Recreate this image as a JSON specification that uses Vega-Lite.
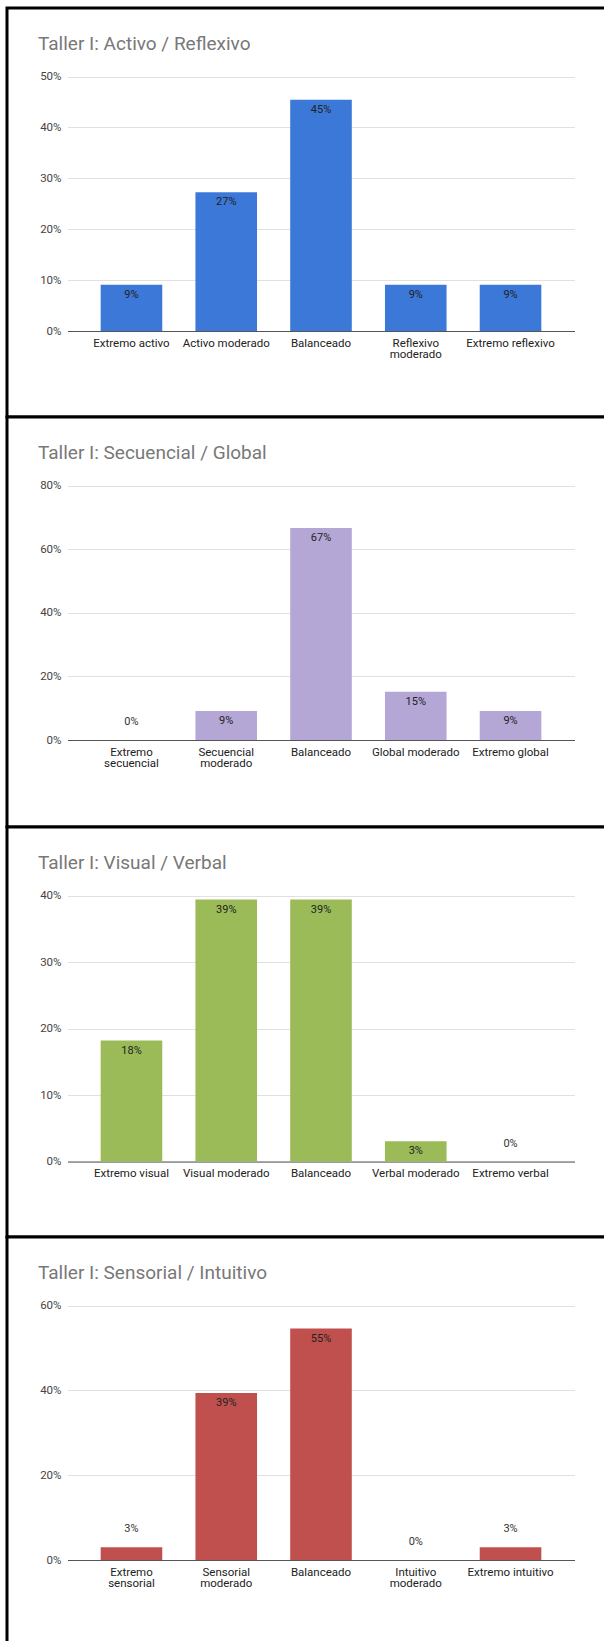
{
  "$schema": "https://vega.github.io/schema/vega-lite/v6.json",
  "padding": {"left": 5, "top": 6, "right": 0, "bottom": 0},
  "background": "white",
  "spacing": 0,
  "bounds": "flush",
  "config": {
    "font": "Roboto",
    "view": {"stroke": "#000000", "strokeWidth": 3, "fill": "white"},
    "axis": {"labelFont": "Roboto", "labelFontSize": 11.5, "title": null},
    "axisY": {"domain": false, "ticks": false, "labelPadding": 6.5, "labelColor": "#444444", "gridColor": "#e0e0e0", "gridWidth": 1, "format": ".0%"},
    "axisX": {"grid": false, "ticks": false, "domainColor": "#555555", "domainWidth": 1.2, "labelColor": "#222222", "labelPadding": 6, "labelAngle": 0, "labelLineHeight": 11},
    "title": {"anchor": "start", "frame": "group", "font": "Roboto", "fontSize": 19, "fontWeight": "normal", "color": "#787878", "baseline": "alphabetic", "offset": -46, "dx": 31}, 
    "text": {"font": "Roboto", "fontSize": 11, "color": "#222222", "baseline": "middle"}
  },
  "vconcat": [
    {
      "width": 600, "height": 409,
      "title": "Taller I: Activo / Reflexivo",
      "data": {"values": [
        {"categoria": "Extremo activo", "porcentaje": 0.0909},
        {"categoria": "Activo moderado", "porcentaje": 0.2727},
        {"categoria": "Balanceado", "porcentaje": 0.4545},
        {"categoria": "Reflexivo moderado", "porcentaje": 0.0909},
        {"categoria": "Extremo reflexivo", "porcentaje": 0.0909}
      ]},
      "encoding": {
        "x": {"field": "categoria", "type": "nominal", "sort": null,
          "scale": {"range": [60.5, 567.5], "paddingInner": 0.35, "paddingOuter": 0.35},
          "axis": {"offset": -86, "labelExpr": "indexof(['Reflexivo moderado'], datum.value) >= 0 ? split(datum.value, ' ') : datum.value"}},
        "y": {"field": "porcentaje", "type": "quantitative",
          "scale": {"domain": [0, 0.5], "range": [323, 68.5], "nice": false},
          "axis": {"offset": -60.5, "values": [0, 0.1, 0.2, 0.3, 0.4, 0.5]}}
      },
      "layer": [
        {"mark": {"type": "bar", "color": "#3c78d8"}},
        {"mark": {"type": "text", "dy": 10}, "encoding": {"text": {"field": "porcentaje", "type": "quantitative", "format": ".0%"}}}
      ]
    },
    {
      "width": 600, "height": 410,
      "title": "Taller I: Secuencial / Global",
      "data": {"values": [
        {"categoria": "Extremo secuencial", "porcentaje": 0},
        {"categoria": "Secuencial moderado", "porcentaje": 0.0909},
        {"categoria": "Balanceado", "porcentaje": 0.6667},
        {"categoria": "Global moderado", "porcentaje": 0.1515},
        {"categoria": "Extremo global", "porcentaje": 0.0909}
      ]},
      "encoding": {
        "x": {"field": "categoria", "type": "nominal", "sort": null,
          "scale": {"range": [60.5, 567.5], "paddingInner": 0.35, "paddingOuter": 0.35},
          "axis": {"offset": -87, "labelExpr": "indexof(['Extremo secuencial', 'Secuencial moderado'], datum.value) >= 0 ? split(datum.value, ' ') : datum.value"}},
        "y": {"field": "porcentaje", "type": "quantitative",
          "scale": {"domain": [0, 0.8], "range": [323, 68.5], "nice": false},
          "axis": {"offset": -60.5, "values": [0, 0.2, 0.4, 0.6, 0.8]}}
      },
      "layer": [
        {"mark": {"type": "bar", "color": "#b4a7d6"}},
        {"transform": [{"filter": "datum.porcentaje >= 0.05"}], "mark": {"type": "text", "dy": 10}, "encoding": {"text": {"field": "porcentaje", "type": "quantitative", "format": ".0%"}}},
        {"transform": [{"filter": "datum.porcentaje < 0.05"}], "mark": {"type": "text", "dy": -18, "color": "#333333"}, "encoding": {"text": {"field": "porcentaje", "type": "quantitative", "format": ".0%"}}}
      ]
    },
    {
      "width": 600, "height": 410,
      "title": "Taller I: Visual / Verbal",
      "data": {"values": [
        {"categoria": "Extremo visual", "porcentaje": 0.1818},
        {"categoria": "Visual moderado", "porcentaje": 0.3939},
        {"categoria": "Balanceado", "porcentaje": 0.3939},
        {"categoria": "Verbal moderado", "porcentaje": 0.0303},
        {"categoria": "Extremo verbal", "porcentaje": 0}
      ]},
      "encoding": {
        "x": {"field": "categoria", "type": "nominal", "sort": null,
          "scale": {"range": [60.5, 567.5], "paddingInner": 0.35, "paddingOuter": 0.35},
          "axis": {"offset": -75.5}},
        "y": {"field": "porcentaje", "type": "quantitative",
          "scale": {"domain": [0, 0.4], "range": [334.5, 68.5], "nice": false},
          "axis": {"offset": -60.5, "values": [0, 0.1, 0.2, 0.3, 0.4]}}
      },
      "layer": [
        {"mark": {"type": "bar", "color": "#9bbb59"}},
        {"transform": [{"filter": "datum.porcentaje > 0"}], "mark": {"type": "text", "dy": 10}, "encoding": {"text": {"field": "porcentaje", "type": "quantitative", "format": ".0%"}}},
        {"transform": [{"filter": "datum.porcentaje <= 0"}], "mark": {"type": "text", "dy": -18, "color": "#333333"}, "encoding": {"text": {"field": "porcentaje", "type": "quantitative", "format": ".0%"}}}
      ]
    },
    {
      "width": 600, "height": 410,
      "title": "Taller I: Sensorial / Intuitivo",
      "data": {"values": [
        {"categoria": "Extremo sensorial", "porcentaje": 0.0303},
        {"categoria": "Sensorial moderado", "porcentaje": 0.3939},
        {"categoria": "Balanceado", "porcentaje": 0.5455},
        {"categoria": "Intuitivo moderado", "porcentaje": 0},
        {"categoria": "Extremo intuitivo", "porcentaje": 0.0303}
      ]},
      "encoding": {
        "x": {"field": "categoria", "type": "nominal", "sort": null,
          "scale": {"range": [60.5, 567.5], "paddingInner": 0.35, "paddingOuter": 0.35},
          "axis": {"offset": -87, "labelExpr": "indexof(['Extremo sensorial', 'Sensorial moderado', 'Intuitivo moderado'], datum.value) >= 0 ? split(datum.value, ' ') : datum.value"}},
        "y": {"field": "porcentaje", "type": "quantitative",
          "scale": {"domain": [0, 0.6], "range": [323, 68.5], "nice": false},
          "axis": {"offset": -60.5, "values": [0, 0.2, 0.4, 0.6]}}
      },
      "layer": [
        {"mark": {"type": "bar", "color": "#c0504d"}},
        {"transform": [{"filter": "datum.porcentaje >= 0.05"}], "mark": {"type": "text", "dy": 10}, "encoding": {"text": {"field": "porcentaje", "type": "quantitative", "format": ".0%"}}},
        {"transform": [{"filter": "datum.porcentaje < 0.05"}], "mark": {"type": "text", "dy": -18, "color": "#333333"}, "encoding": {"text": {"field": "porcentaje", "type": "quantitative", "format": ".0%"}}}
      ]
    }
  ]
}
